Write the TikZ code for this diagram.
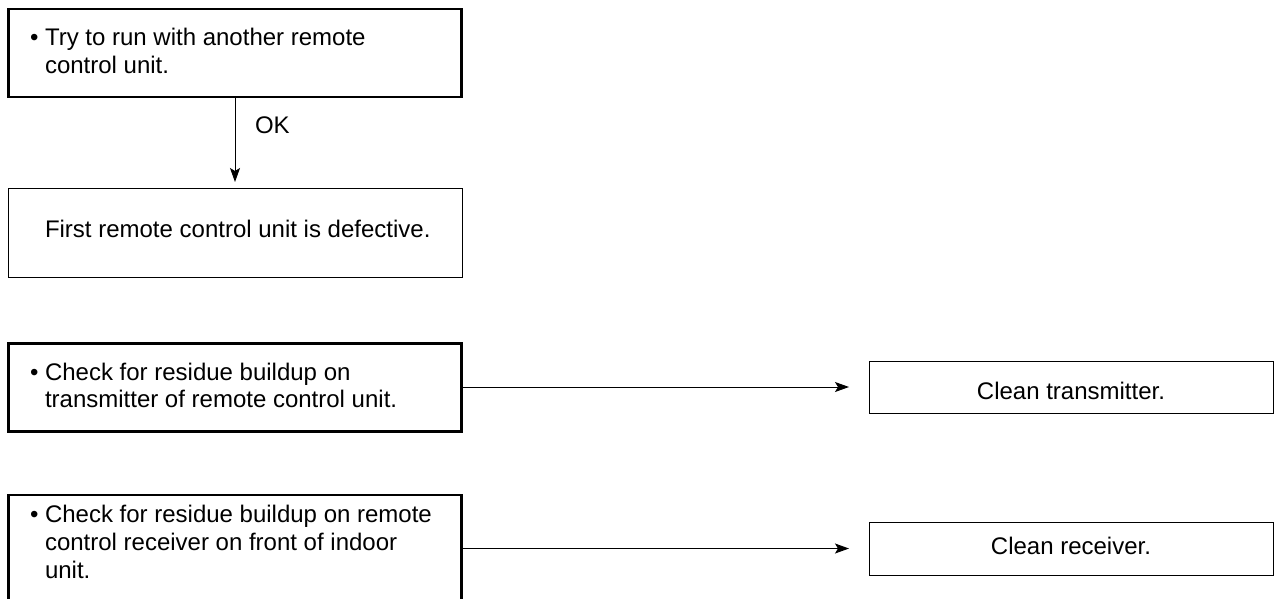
\documentclass[tikz,border=0pt]{standalone}
\usepackage{fontspec}
\setmainfont{Liberation Sans}
\usetikzlibrary{arrows.meta}
\begin{document}
\begin{tikzpicture}[x=1pt,y=-1pt,
  thickbox/.style={draw=black,line width=2.4pt,inner sep=0pt,outer sep=0pt},
  thinbox/.style={draw=black,line width=1pt,inner sep=0pt,outer sep=0pt},
  txt/.style={inner sep=0pt,outer sep=0pt,font=\fontsize{24}{28}\selectfont,anchor=base west},
  ctxt/.style={inner sep=0pt,outer sep=0pt,font=\fontsize{24}{28}\selectfont,anchor=base},
  conn/.style={draw=black,line width=1pt,-{Stealth[length=14pt,width=10pt,inset=3pt]}}]
\useasboundingbox (0,0) rectangle (1274,598);
\clip (0,0) rectangle (1274,598);
% boxes
\node[thickbox,minimum width=453pt,minimum height=87.5pt] (b1) at (235,53) {};
\node[thinbox,minimum width=454pt,minimum height=89pt] (b2) at (235,232.5) {};
\node[thickbox,minimum width=453pt,minimum height=88pt] (b3) at (235,387.5) {};
\node[thickbox,minimum width=453pt,minimum height=140pt] (b5) at (235,565) {};
\node[thinbox,minimum width=404pt,minimum height=52pt] (b4) at (1071,387) {};
\node[thinbox,minimum width=404pt,minimum height=53pt] (b6) at (1071,548.5) {};
% texts
\node[txt] (d1) at (30,45.5) {•};
\node[txt] (t1a) at (45,45.5) {Try to run with another remote};
\node[txt] (t1b) at (45,73.5) {control unit.};
\node[txt] (t2) at (45,237) {First remote control unit is defective.};
\node[txt] (d3) at (30,380) {•};
\node[txt] (t3a) at (45,380) {Check for residue buildup on};
\node[txt] (t3b) at (45,407.5) {transmitter of remote control unit.};
\node[txt] (d5) at (30,522) {•};
\node[txt] (t5a) at (45,522) {Check for residue buildup on remote};
\node[txt] (t5b) at (45,550) {control receiver on front of indoor};
\node[txt] (t5c) at (45,578) {unit.};
\node[ctxt] (t4) at (1071,399.5) {Clean transmitter.};
\node[ctxt] (t6) at (1071,554) {Clean receiver.};
\node[txt] (ok) at (255,133) {OK};
% connectors
\draw[conn,shorten >=6pt] (b1.south) -- (b2.north);
\draw[conn,shorten >=20pt] (b3.east |- b4.west) -- (b4.west);
\draw[conn,shorten >=20pt] (b5.east |- b6.west) -- (b6.west);
\end{tikzpicture}
\end{document}
